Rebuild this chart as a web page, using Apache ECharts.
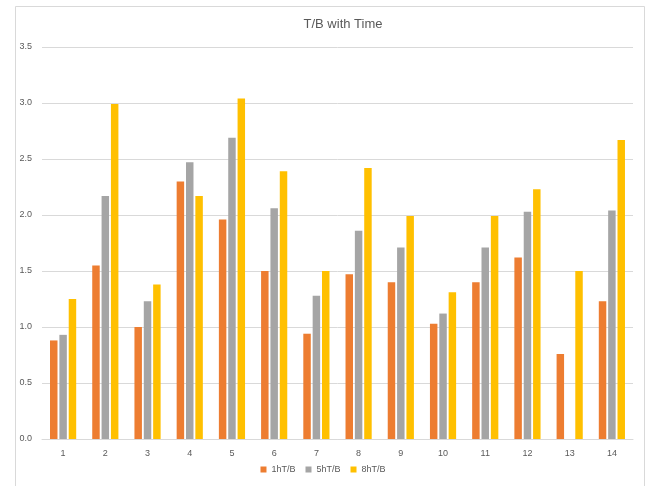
<!DOCTYPE html>
<html>
<head>
<meta charset="utf-8">
<style>
  html, body { margin: 0; padding: 0; background: #ffffff; }
  #chart { width: 646px; height: 486px; }
</style>
<script src="https://cdn.jsdelivr.net/npm/echarts@6/dist/echarts.min.js"></script>
</head>
<body>
<div id="chart"></div>
<script>
// Sample numbers 1–14 along the x axis
const categories = ['1', '2', '3', '4', '5', '6', '7', '8', '9', '10', '11', '12', '13', '14'];

// T/B ratio measured after 1 h, 5 h and 8 h
const tb1h = [0.88, 1.55, 1.00, 2.30, 1.96, 1.50, 0.94, 1.47, 1.40, 1.03, 1.40, 1.62, 0.76, 1.23];
const tb5h = [0.93, 2.17, 1.23, 2.47, 2.69, 2.06, 1.28, 1.86, 1.71, 1.12, 1.71, 2.03, null, 2.04];
const tb8h = [1.25, 2.99, 1.38, 2.17, 3.04, 2.39, 1.50, 2.42, 1.99, 1.31, 1.99, 2.23, 1.50, 2.67];

const seriesNames = ['1hT/B', '5hT/B', '8hT/B'];
const seriesColors = ['#ED7D31', '#A5A5A5', '#FFC000'];

const font = "'Liberation Sans', 'DejaVu Sans', sans-serif";
const chart = echarts.init(document.getElementById('chart'), null, { renderer: 'canvas' });

const barSeries = [tb1h, tb5h, tb8h].map((values, i) => ({
  name: seriesNames[i],
  type: 'bar',
  data: values,
  itemStyle: { color: seriesColors[i] },
  barGap: '25%',
  barCategoryGap: '38%'
}));

chart.setOption({
  animation: false,
  backgroundColor: '#ffffff',
  graphic: [{
    type: 'rect',
    silent: true,
    z: -10,
    shape: { x: 15.5, y: 6.5, width: 629, height: 490 },
    style: { fill: '#ffffff', stroke: '#d9d9d9', lineWidth: 1 }
  }],
  title: {
    text: 'T/B with Time',
    left: 338,
    top: 13,
    textAlign: 'center',
    textStyle: { fontFamily: font, fontSize: 13, fontWeight: 'normal', color: '#595959' }
  },
  legend: {
    data: seriesNames,
    bottom: 7,
    left: 'center',
    itemWidth: 6,
    itemHeight: 6,
    itemGap: 10,
    icon: 'rect',
    textStyle: { fontFamily: font, fontSize: 9, color: '#595959' }
  },
  grid: { left: 42, right: 13, top: 47, bottom: 47, containLabel: false },
  xAxis: {
    type: 'category',
    data: categories,
    axisLine: { lineStyle: { color: '#d9d9d9' } },
    axisTick: { show: false },
    axisLabel: { fontFamily: font, fontSize: 9, color: '#595959', margin: 10 }
  },
  yAxis: {
    type: 'value',
    min: 0,
    max: 3.5,
    interval: 0.5,
    axisLine: { show: false },
    axisTick: { show: false },
    axisLabel: {
      fontFamily: font, fontSize: 9, color: '#595959', margin: 10,
      formatter: v => v.toFixed(1)
    },
    splitLine: { lineStyle: { color: '#d9d9d9' } }
  },
  series: barSeries
});
</script>
</body>
</html>
